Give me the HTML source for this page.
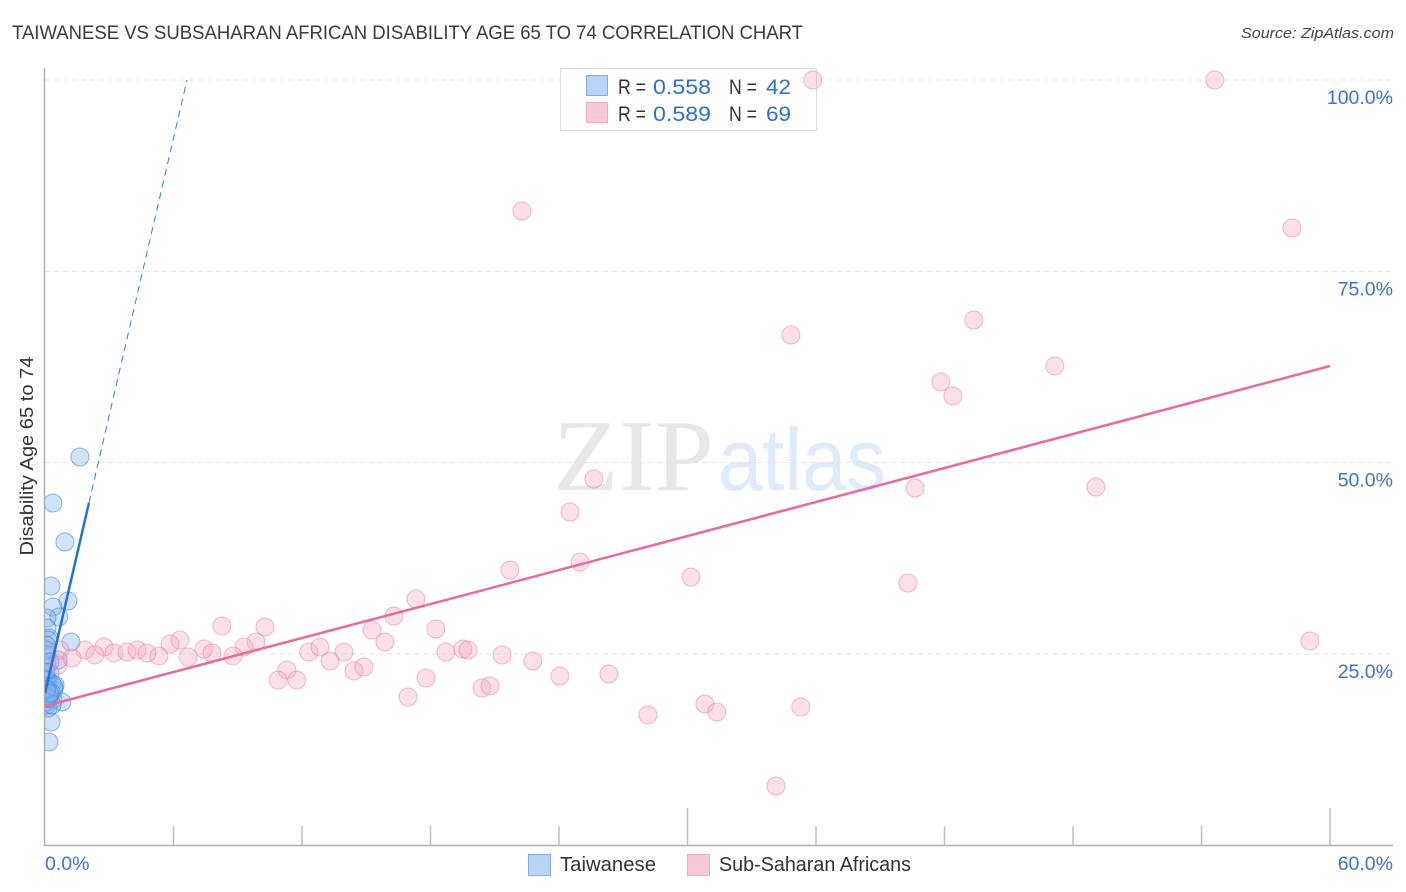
<!DOCTYPE html>
<html lang="en">
<head>
<meta charset="utf-8">
<title>Taiwanese vs Sub-Saharan African Disability Age 65 to 74 Correlation Chart</title>
<style>
html,body{margin:0;padding:0;background:#fff;width:1406px;height:892px;overflow:hidden}
svg{display:block;font-family:"Liberation Sans",sans-serif}
</style>
</head>
<body>
<svg id="chart" width="1406" height="892" viewBox="0 0 1406 892" xmlns="http://www.w3.org/2000/svg">
  <defs><clipPath id="plot-clip"><rect x="45" y="60" width="1355" height="786"/></clipPath></defs>
  <text x="12" y="39" font-size="19" fill="#3a3a3a" textLength="791" lengthAdjust="spacingAndGlyphs">TAIWANESE VS SUBSAHARAN AFRICAN DISABILITY AGE 65 TO 74 CORRELATION CHART</text>
  <text x="1241" y="38" font-size="15" fill="#444" font-style="italic" textLength="153" lengthAdjust="spacingAndGlyphs">Source: ZipAtlas.com</text>
  <g>
    <text x="553" y="490" font-family="'Liberation Serif',serif" font-size="102" fill="#e8e8e8" textLength="161" lengthAdjust="spacingAndGlyphs">ZIP</text>
    <text x="718" y="490" font-size="88" fill="#dfeafa" textLength="168" lengthAdjust="spacingAndGlyphs">atlas</text>
  </g>
  <g id="grid"></g>
  <g>
    <rect x="560.5" y="68.5" width="256" height="62" fill="#fff" stroke="#ddd"/>
    <rect x="586.5" y="75.5" width="21" height="20" fill="#b8d3f6" stroke="#7fb0ea"/>
    <rect x="586.5" y="102.5" width="21" height="20" fill="#fac8d9" stroke="#f3a9c2"/>
    <g font-size="21">
      <text x="618" y="94" fill="#333" textLength="28" lengthAdjust="spacingAndGlyphs">R =</text>
      <text x="653" y="94" fill="#2f6fd0" textLength="58" lengthAdjust="spacingAndGlyphs">0.558</text>
      <text x="729" y="94" fill="#333" textLength="28" lengthAdjust="spacingAndGlyphs">N =</text>
      <text x="766" y="94" fill="#2f6fd0" textLength="25" lengthAdjust="spacingAndGlyphs">42</text>
    </g>
    <g font-size="21">
      <text x="618" y="121" fill="#333" textLength="28" lengthAdjust="spacingAndGlyphs">R =</text>
      <text x="653" y="121" fill="#2f6fd0" textLength="58" lengthAdjust="spacingAndGlyphs">0.589</text>
      <text x="729" y="121" fill="#333" textLength="28" lengthAdjust="spacingAndGlyphs">N =</text>
      <text x="766" y="121" fill="#2f6fd0" textLength="25" lengthAdjust="spacingAndGlyphs">69</text>
    </g>
  </g>
  <g id="axes"></g>
  <g id="series-blue" clip-path="url(#plot-clip)"></g>
  <g id="series-pink" clip-path="url(#plot-clip)"></g>
  <g id="trends" clip-path="url(#plot-clip)"></g>
  <g>
    <rect x="528.5" y="854.5" width="22" height="21" fill="#b8d3f6" stroke="#7fb0ea"/>
    <text x="560" y="871" font-size="20" fill="#333" textLength="96" lengthAdjust="spacingAndGlyphs">Taiwanese</text>
    <rect x="687.5" y="854.5" width="22" height="21" fill="#fac8d9" stroke="#f3a9c2"/>
    <text x="719" y="871" font-size="20" fill="#333" textLength="192" lengthAdjust="spacingAndGlyphs">Sub-Saharan Africans</text>
  </g>
  <text transform="translate(33,456) rotate(-90)" font-size="18.5" fill="#333" text-anchor="middle" textLength="199" lengthAdjust="spacingAndGlyphs">Disability Age 65 to 74</text>
</svg>
<script>
const yTickValues = [100, 75, 50, 25];
const yTickLabels = ["100.0%", "75.0%", "50.0%", "25.0%"];
const xTickValues = [6, 12, 18, 24, 30, 36, 42, 48, 54, 60];
const xLongTicks = [30, 60];
const xEndValues = [0, 60];
const xEndLabels = ["0.0%", "60.0%"];

const taiwaneseX = [1.63,0.37,0.93,0.28,1.07,0.37,0.65,0.09,1.21,0.09,0.19,0.14,0.05,0.61,0.09,0.09,0.23,0.14,0.33,0.42,0.09,0.05,0.19,0.37,0.09,0.79,0.28,0.19,0.05,0.14,0.05,0.23,0.05,0.33,0.47,0.02,0.12,0.28,0.16,0.42,0.07,0.23];
const taiwaneseY = [50.74,44.73,39.63,33.88,31.92,31.14,29.83,29.70,26.56,28.40,27.09,26.83,26.17,24.21,24.87,23.56,22.51,21.59,21.08,20.29,20.68,21.59,19.64,18.99,18.33,18.72,16.11,13.50,18.72,17.94,25.52,23.95,22.64,18.33,20.95,20.29,19.40,20.00,19.20,20.70,20.40,19.80];

const africanX = [35.85,54.62,22.27,58.22,34.83,43.37,41.83,42.39,47.15,25.63,40.62,49.07,24.51,21.71,24.98,30.16,40.29,17.32,16.29,8.26,10.27,15.27,18.25,15.87,59.06,6.30,5.84,9.85,9.29,2.75,1.87,2.33,3.22,3.83,4.30,4.76,5.32,6.68,7.42,7.80,8.78,12.32,12.84,13.31,13.96,14.43,14.89,18.72,19.51,19.75,21.34,22.78,24.04,26.33,11.30,10.88,11.76,17.79,16.95,20.40,20.78,28.15,30.81,31.37,35.29,34.13,0.70,0.61,1.26];
const africanY = [100,100,82.88,80.66,66.68,68.64,60.54,58.71,62.63,47.86,46.69,46.82,43.55,35.97,37.02,35.06,34.27,32.18,29.96,28.66,28.52,28.13,28.26,26.56,26.69,26.83,26.30,26.56,25.91,25.91,25.52,24.87,25.13,25.26,25.52,25.13,24.74,24.61,25.65,25.13,24.74,25.26,25.91,24.08,25.26,22.78,23.30,25.26,25.65,25.52,24.87,24.08,22.12,22.38,22.91,21.59,21.59,21.86,19.38,20.55,20.82,17.03,18.46,17.42,18.07,7.75,25.52,23.56,24.47];

const africanTrendX = [0, 60];
const africanTrendY = [18.2, 62.63];
const taiwaneseSolidX = [0, 2.05];
const taiwaneseSolidY = [19.9, 44.73];
const taiwaneseDashX = [2.05, 6.63];
const taiwaneseDashY = [44.73, 100];

const SVG_NS = "http://www.w3.org/2000/svg";
function xScale(v) { return 45 + v * 21.417; }
function yScale(v) { return 80 + (100 - v) * 7.653; }
function make(tag, attrs, parent) {
  const el = document.createElementNS(SVG_NS, tag);
  for (const k in attrs) el.setAttribute(k, attrs[k]);
  parent.appendChild(el);
  return el;
}
const grid = document.getElementById("grid");
const axes = document.getElementById("axes");
const blue = document.getElementById("series-blue");
const pink = document.getElementById("series-pink");
const trends = document.getElementById("trends");

yTickValues.forEach(function (v, i) {
  const line = make("line", {x1: 45, x2: 1393, y1: yScale(v), y2: yScale(v), stroke: "#e2e2e2", "stroke-width": 1, "stroke-dasharray": "5 4"}, grid);
  
  
  const label = make("text", {x: 1393, y: yScale(v) + 24, "font-size": 19.5, fill: "#3d72d2", "text-anchor": "end"}, axes);
  label.textContent = yTickLabels[i];
  
  
});

const yAxis = make("line", {x1: 44.5, x2: 44.5, y1: 68, y2: 846, stroke: "#b0b0b0", "stroke-width": 1.5}, axes);


const xAxis = make("line", {x1: 44, x2: 1393, y1: 845.5, y2: 845.5, stroke: "#b0b0b0", "stroke-width": 1.5}, axes);



xTickValues.forEach(function (v) {
  const top = xLongTicks.indexOf(v) >= 0 ? 808 : 826;
  const tick = make("line", {x1: xScale(v), x2: xScale(v), y1: top, y2: 845, stroke: "#c0c0c0", "stroke-width": 1.5}, axes);
  
  
});
xEndValues.forEach(function (v, i) {
  const label = make("text", {x: i === 0 ? xScale(v) : 1393, y: 870, "font-size": 19.5, fill: "#3d72d2", "text-anchor": i === 0 ? "start" : "end"}, axes);
  label.textContent = xEndLabels[i];
  
  
});

taiwaneseX.forEach(function (v, i) {
  const dot = make("circle", {cx: xScale(v), cy: yScale(taiwaneseY[i]), r: 9, fill: "#7fb2f0", "fill-opacity": 0.36, stroke: "#2f7ddc", "stroke-opacity": 0.55, "stroke-width": 1}, blue);
  
  
});
africanX.forEach(function (v, i) {
  const dot = make("circle", {cx: xScale(v), cy: yScale(africanY[i]), r: 9, fill: "#f6a9c3", "fill-opacity": 0.36, stroke: "#ea7fa5", "stroke-opacity": 0.55, "stroke-width": 1}, pink);
  
  
});

const dash = make("line", {x1: xScale(taiwaneseDashX[0]), y1: yScale(taiwaneseDashY[0]), x2: xScale(taiwaneseDashX[1]), y2: yScale(taiwaneseDashY[1]), stroke: "#2f7ddc", "stroke-width": 1, "stroke-dasharray": "7 5"}, trends);


const solid = make("line", {x1: xScale(taiwaneseSolidX[0]), y1: yScale(taiwaneseSolidY[0]), x2: xScale(taiwaneseSolidX[1]), y2: yScale(taiwaneseSolidY[1]), stroke: "#2172dc", "stroke-width": 2.5}, trends);


const pinkLine = make("line", {x1: xScale(africanTrendX[0]), y1: yScale(africanTrendY[0]), x2: xScale(africanTrendX[1]), y2: yScale(africanTrendY[1]), stroke: "#ea6a98", "stroke-width": 2.5}, trends);


</script>
</body>
</html>
